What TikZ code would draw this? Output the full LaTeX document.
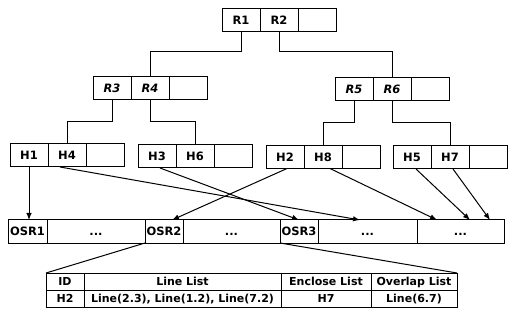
\documentclass[tikz,border=0pt]{standalone}
\usepackage{fontspec}
\setmainfont{DejaVu Sans}
\usetikzlibrary{positioning, arrows.meta}
\tikzset{
  cell/.style={draw, line width=1pt, inner sep=0pt, outer sep=0pt,
    minimum width=38pt, minimum height=23pt, text height=8.5pt, text depth=0pt,
    font=\fontsize{11.5}{13}\selectfont\bfseries},
  tcell/.style={cell, minimum height=17pt, text height=8pt, font=\fontsize{11}{13}\selectfont\bfseries},
  link/.style={line width=1pt},
  ptr/.style={line width=1pt, -{Latex[length=7pt,width=5.5pt]}},
}
\newcommand{\TriNode}[5]{
    \node[cell] (#1-1) at (#2,#3) {#4};
    \node[cell, right=0pt of #1-1] (#1-2) {#5};
    \node[cell, right=0pt of #1-2] (#1-3) {};
}

\begin{document}
\begin{tikzpicture}[x=1pt, y=-1pt]
    \useasboundingbox (0,0) rectangle (508,320);

    % tree nodes
    \TriNode{R12}{241}{20.5}{R1}{R2}
    \TriNode{R34}{112}{88}{\itshape R3}{\itshape R4}
    \TriNode{R56}{354}{89}{\itshape R5}{\itshape R6}
    \TriNode{H14}{29}{155.5}{H1}{H4}
    \TriNode{H36}{157}{156.5}{H3}{H6}
    \TriNode{H28}{285}{157}{H2}{H8}
    \TriNode{H57}{412}{157.5}{H5}{H7}

    \draw[link] (R12-1.south) -- ++(0,20) -| (R34-2.north);
    \draw[link] (R12-2.south) -- ++(0,20) -| (R56-2.north);
    \draw[link] (R34-1.south) -- ++(0,22) -| (H14-2.north);
    \draw[link] (R34-2.south) -- ++(0,22) -| (H36-2.north);
    \draw[link] (R56-1.south) -- ++(0,22.5) -| (H28-2.north);
    \draw[link] (R56-2.south) -- ++(0,22.5) -| (H57-2.north);

    % object array
    \node[cell, minimum width=39pt] (osr1) at (27.5,231.5) {OSR1};
    \node[cell, minimum width=98pt, right=0pt of osr1] (dots1) {...};
    \node[cell, right=0pt of dots1] (osr2) {OSR2};
    \node[cell, minimum width=97pt, right=0pt of osr2] (dots2) {...};
    \node[cell, right=0pt of dots2] (osr3) {OSR3};
    \node[cell, minimum width=99pt, right=0pt of osr3] (dots3) {...};
    \node[cell, minimum width=87pt, right=0pt of dots3] (dots4) {...};

    \draw[ptr] (H14-1.south) -- (H14-1.south |- osr1.north);
    \draw[ptr] ([xshift=-7pt]H14-2.south) -- ([xshift=-7.5pt]dots3.north);
    \draw[ptr] ([xshift=3pt]H36-1.south) -- (osr3.north);
    \draw[ptr] ([xshift=2pt]H28-1.south) -- ([xshift=8pt]osr2.north);
    \draw[ptr] ([xshift=7pt]H28-2.south) -- ([xshift=-23.5pt]dots4.north);
    \draw[ptr] ([xshift=4pt]H57-1.south) -- ([xshift=9.5pt]dots4.north);
    \draw[ptr] ([xshift=3pt]H57-2.south) -- ([xshift=29.5pt]dots4.north);

    % record of OSR2
    \node[tcell] (tid) at (65,281.5) {ID};
    \node[tcell, minimum width=197pt, right=0pt of tid] (tline) {Line List};
    \node[tcell, minimum width=90pt, right=0pt of tline] (tenc) {Enclose List};
    \node[tcell, minimum width=86pt, right=0pt of tenc] (tover) {Overlap List};
    \node[tcell, below=0pt of tid] (rid) {H2};
    \node[tcell, minimum width=197pt, right=0pt of rid] (rline) {Line(2.3), Line(1.2), Line(7.2)};
    \node[tcell, minimum width=90pt, right=0pt of rline] (renc) {H7};
    \node[tcell, minimum width=86pt, right=0pt of renc] (rover) {Line(6.7)};

    \draw[link] (osr2.south west) -- (tid.north west);
    \draw[link] (osr3.south west) -- (tover.north east);
\end{tikzpicture}
\end{document}
